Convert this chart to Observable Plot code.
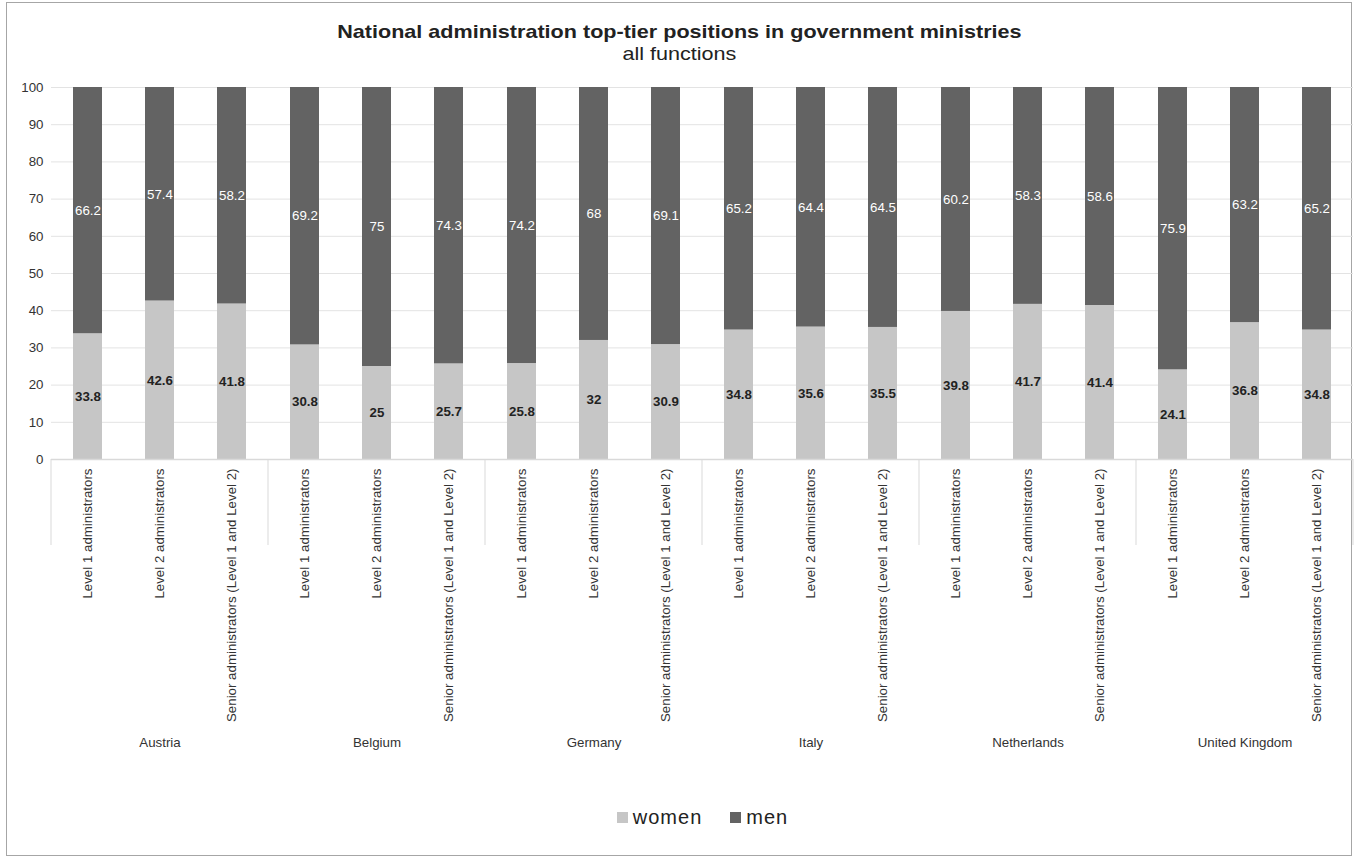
<!DOCTYPE html>
<html>
<head>
<meta charset="utf-8">
<script src="https://cdn.jsdelivr.net/npm/d3@7"></script>
<script src="https://cdn.jsdelivr.net/npm/@observablehq/plot@0.6"></script>
<style>
  html, body { margin: 0; padding: 0; background: #fff; }
  body { width: 1359px; height: 862px; position: relative; overflow: hidden; font-family: "Liberation Sans", Arial, sans-serif; }
  #frame { position: absolute; left: 6px; top: 2px; width: 1346px; height: 854px; border: 1px solid #a6a6a6; box-sizing: border-box; }
  #title { position: absolute; left: 0; width: 1359px; top: 21px; text-align: center; font-size: 18.6px; font-weight: bold; color: #222; line-height: 22px; transform: scaleX(1.16); transform-origin: 680px 0; }
  #subtitle { position: absolute; left: 0; width: 1359px; top: 43px; text-align: center; font-size: 18.6px; color: #222; line-height: 22px; transform: scaleX(1.16); transform-origin: 680px 0; }
  #chart { position: absolute; left: 0; top: 0; }
  #legend { position: absolute; left: 46px; width: 1313px; top: 806px; display: flex; justify-content: center; gap: 28px; font-size: 20px; letter-spacing: 1px; color: #222; }
  #legend span.item { display: flex; align-items: center; gap: 5px; }
  #legend span.sw { display: inline-block; width: 11px; height: 11px; }
</style>
</head>
<body>
<div id="frame"></div>
<div id="chart"></div>
<div id="title">National administration top-tier positions in government ministries</div>
<div id="subtitle">all functions</div>
<div id="legend"></div>
<script>
const countries = ["Austria", "Belgium", "Germany", "Italy", "Netherlands", "United Kingdom"];
const levels = ["Level 1 administrators", "Level 2 administrators", "Senior administrators (Level 1 and Level 2)"];
// women values, per country, per level
const women = [
  [33.8, 42.6, 41.8],
  [30.8, 25, 25.7],
  [25.8, 32, 30.9],
  [34.8, 35.6, 35.5],
  [39.8, 41.7, 41.4],
  [24.1, 36.8, 34.8]
];
const men = [
  [66.2, 57.4, 58.2],
  [69.2, 75, 74.3],
  [74.2, 68, 69.1],
  [65.2, 64.4, 64.5],
  [60.2, 58.3, 58.6],
  [75.9, 63.2, 65.2]
];
const seriesNames = ["women", "men"];
const seriesColors = ["#c6c6c6", "#636363"];
const yTicks = [0, 10, 20, 30, 40, 50, 60, 70, 80, 90, 100];

const rows = [];
countries.forEach((c, i) => {
  levels.forEach((l, j) => {
    rows.push({country: c, level: l, sex: "women", value: women[i][j]});
    rows.push({country: c, level: l, sex: "men", value: men[i][j]});
  });
});

const stackOpts = {fx: "country", x: "level", y: "value", z: "sex", order: seriesNames};

const plot = Plot.plot({
  width: 1359,
  height: 790,
  marginTop: 87,
  marginBottom: 331,
  marginLeft: 51,
  marginRight: 6,
  style: {fontFamily: "Liberation Sans, Arial, sans-serif", fontSize: "13.3px", color: "#333", background: "transparent"},
  fx: {domain: countries, padding: 0, label: null, axis: "bottom", tickSize: 0, tickPadding: 278},
  x: {domain: levels, paddingInner: 0.6, paddingOuter: 0.3, label: null, tickSize: 0, tickRotate: -90, tickPadding: 9},
  y: {domain: [0, 100], ticks: yTicks, label: null, tickSize: 0, tickPadding: 8},
  color: {domain: seriesNames, range: seriesColors},
  marks: [
    Plot.gridY(yTicks.slice(1), {stroke: "#e3e3e3", strokeOpacity: 1, strokeWidth: 1}),
    Plot.barY(rows, Plot.stackY({...stackOpts, fill: "sex"})),
    Plot.ruleY([0], {stroke: "#d9d9d9", strokeWidth: 1.5}),
    Plot.text(rows, Plot.stackY({...stackOpts, text: d => d.sex === "women" ? String(d.value) : null, fill: "#222", fontWeight: "bold", fontSize: 13.3})),
    Plot.text(rows, Plot.stackY({...stackOpts, text: d => d.sex === "men" ? String(d.value) : null, fill: "#fff", fontSize: 13.3}))
  ]
});
document.getElementById("chart").appendChild(plot);

// group separators below the axis, from the fx scale
const fxs = plot.scale("fx");
const yS = plot.scale("y");
const band = d3.scaleBand().domain(fxs.domain).range(fxs.range).padding(0);
const y0 = yS.apply(0);
const svg = d3.select(plot.tagName === "svg" ? plot : plot.querySelector("svg"));
const edges = fxs.domain.map(c => band(c)).concat([band(fxs.domain[fxs.domain.length - 1]) + band.bandwidth()]);
svg.append("g").selectAll("line").data(edges).join("line")
  .attr("x1", d => d).attr("x2", d => d)
  .attr("y1", y0).attr("y2", y0 + 86)
  .attr("stroke", "#d9d9d9").attr("stroke-width", 1);

// legend
const leg = document.getElementById("legend");
seriesNames.forEach((s, i) => {
  const it = document.createElement("span");
  it.className = "item";
  it.innerHTML = `<span class="sw" style="background:${seriesColors[i]}"></span><span>${s}</span>`;
  leg.appendChild(it);
});
</script>
</body>
</html>
